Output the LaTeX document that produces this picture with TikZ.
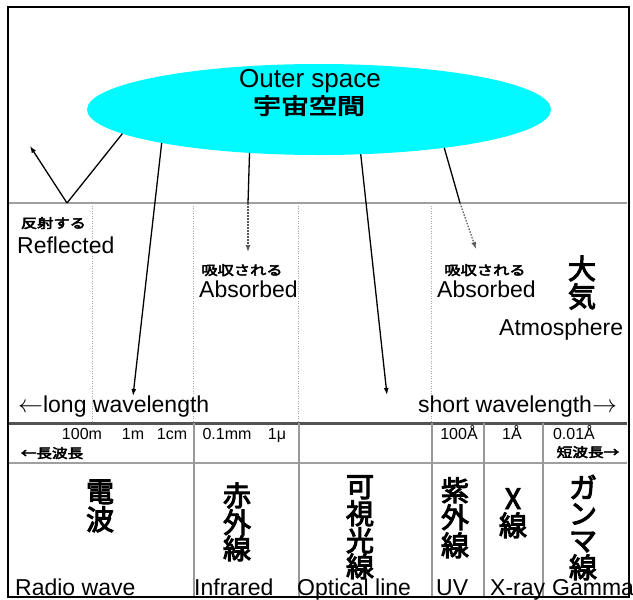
\documentclass[tikz,border=0pt]{standalone}
\usepackage{fontspec}
\setmainfont{Liberation Sans}
\newfontfamily\jpfont[FakeBold=3.5]{Noto Sans CJK JP}
\usetikzlibrary{shapes.geometric,arrows.meta}
\definecolor{spacecyan}{RGB}{0,250,255}
\begin{document}
\begin{tikzpicture}[x=1pt,y=-1pt,
  en/.style={font=\fontsize{23}{26}\selectfont, inner sep=0pt, anchor=base west},
  num/.style={font=\fontsize{16}{18}\selectfont, inner sep=0pt, anchor=base},
  jsmall/.style={font=\jpfont\fontsize{13}{15}\selectfont, inner sep=0pt, anchor=base},
  jbig/.style={font=\jpfont\fontsize{28}{28}\selectfont, inner sep=0pt, anchor=base},
  ray/.style={line width=1.3pt, black},
  tip/.style={-{Latex[length=7pt,width=5pt]}},
  dray/.style={line width=1.2pt, gray!70!black, dash pattern=on 1.5pt off 1.5pt},
  tline/.style={line width=2pt, gray!80},
  guide/.style={line width=1pt, gray!70, dash pattern=on 1pt off 1.5pt}]
\useasboundingbox (0,0) rectangle (633,600);
\fill[white] (0,0) rectangle (633,600);

% outer space
\node[ellipse, fill=spacecyan, draw=none, inner sep=0pt, outer sep=0pt,
      minimum width=464pt, minimum height=91pt] (space) at (319,109.5) {};
\node[font=\fontsize{26}{28}\selectfont, inner sep=0pt, anchor=base] (outer) at (310,87) {Outer space};
\node[font=\jpfont\fontsize{22}{24}\selectfont, inner sep=0pt, anchor=base] (uchu) at (309,114) {\scalebox{1.27}[1]{宇宙空間}};

% ground line
\coordinate (gl) at (9,203);
\coordinate (gr) at (627,203);
\draw[line width=2.5pt, gray!75] (gl) -- (gr);

% dotted guides
\foreach \x/\n in {92/a,193/b,298/c,431/d}{
  \coordinate (gt\n) at (\x,203);
  \coordinate (gb\n) at (\x,423);
  \draw[guide] (gt\n) -- (gb\n);
}

% rays
\coordinate (bounce) at (67,203);
\coordinate (rtip) at (30,146);
\draw[ray] (space.-173.6) -- (bounce);
\draw[ray, tip] (bounce) -- (rtip);

\coordinate (radtip) at (133,396);
\draw[ray, tip] (space.-168.6) -- (radtip);

\coordinate (irg) at (248,203);
\coordinate (irtip) at (248,252);
\draw[ray] (space.-148.6) -- (irg);
\draw[dray, tip] (irg) -- (irtip);

\coordinate (optip) at (387,395);
\draw[ray, tip] (space.-47.5) -- (optip);

\coordinate (uvg) at (460,203);
\coordinate (uvtip) at (476,249);
\draw[ray] (space.-17.4) -- (uvg);
\draw[dray, tip] (uvg) -- (uvtip);

% labels in atmosphere
\node[jsmall] (hansha) at (53.5,228) {\scalebox{1.25}[1]{反射する}};
\node[en] (refl) at (17,253) {Reflected};
\node[jsmall] (kyu1) at (242,275) {\scalebox{1.25}[1]{吸収される}};
\node[en] (abs1) at (199,297) {Absorbed};
\node[jsmall] (kyu2) at (485,275) {\scalebox{1.25}[1]{吸収される}};
\node[en] (abs2) at (437,297) {Absorbed};
\node[jbig] (tai) at (582,279) {大};
\node[jbig] (ki) at (582,307) {気};
\node[en] (atm) at (499,335) {Atmosphere};
\node[en] (longw) at (18,412) {$\leftarrow$long wavelength};
\node[en] (shortw) at (418,412) {short wavelength$\rightarrow$};

% table lines
\coordinate (t1l) at (9,423);  \coordinate (t1r) at (627,423);
\coordinate (t2l) at (9,463);  \coordinate (t2r) at (627,463);
\draw[line width=3pt, gray!65!black] (t1l) -- (t1r);
\draw[line width=2.5pt, gray!75] (t2l) -- (t2r);
\foreach \x/\n in {194/a,299/b,432/c,484/d,543/e}{
  \coordinate (vt\n) at (\x,423);
  \coordinate (vb\n) at (\x,597);
  \draw[tline] (vt\n) -- (vb\n);
}

% row 1
\node[num] (n1) at (82,439) {100m};
\node[num] (n2) at (133,439) {1m};
\node[num] (n3) at (172,439) {1cm};
\node[num] (n4) at (227,439) {0.1mm};
\node[num] (n5) at (277,439) {1μ};
\node[num] (n6) at (459,439) {100Å};
\node[num] (n7) at (512,439) {1Å};
\node[num] (n8) at (574,439) {0.01Å};
\node[jsmall] (chou) at (52,458) {\scalebox{1.2}[1]{←長波長}};
\node[jsmall] (tan) at (588,457) {\scalebox{1.2}[1]{短波長→}};

% row 2 vertical names
\node[jbig] (c11) at (100,502) {電};
\node[jbig] (c12) at (100,530) {波};
\node[jbig] (c21) at (237,506) {赤};
\node[jbig] (c22) at (237,533) {外};
\node[jbig] (c23) at (237,559) {線};
\node[jbig] (c31) at (360,497) {可};
\node[jbig] (c32) at (360,524) {視};
\node[jbig] (c33) at (360,551) {光};
\node[jbig] (c34) at (360,577) {線};
\node[jbig] (c41) at (455,501) {紫};
\node[jbig] (c42) at (455,528) {外};
\node[jbig] (c43) at (455,556) {線};
\node[jbig] (c51) at (513,509) {X};
\node[jbig] (c52) at (513,536) {線};
\node[jbig] (c61) at (583,498) {ガ};
\node[jbig] (c62) at (583,524) {ン};
\node[jbig] (c63) at (583,551) {マ};
\node[jbig] (c64) at (583,578) {線};

% bottom labels
\node[en] (radio) at (15,595) {Radio wave};
\node[en] (infra) at (194,595) {Infrared};
\node[en] (optic) at (297,595) {Optical line};
\node[en] (uv) at (436,595) {UV};
\node[en] (xray) at (490,595) {X-ray};
\node[en] (gamma) at (552,595) {Gamma};

% frame
\coordinate (f1) at (8,6.5);
\coordinate (f2) at (628.5,597);
\draw[line width=2pt, black] (f1) rectangle (f2);
\end{tikzpicture}
\end{document}
